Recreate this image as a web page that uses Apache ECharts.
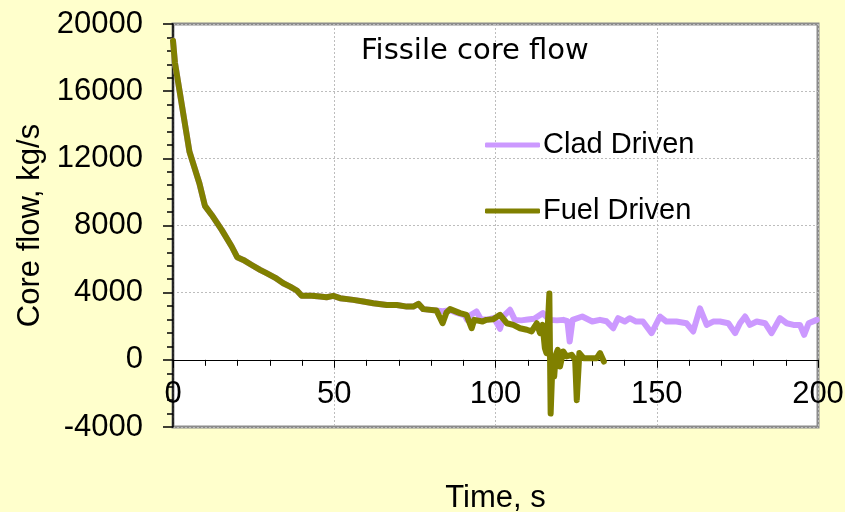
<!DOCTYPE html>
<html>
<head>
<meta charset="utf-8">
<script src="https://cdn.jsdelivr.net/npm/echarts@6/dist/echarts.min.js"></script>
<style>
html,body{margin:0;padding:0;background:#FFFFCC;}
#chart{width:845px;height:512px;}
</style>
</head>
<body>
<div id="chart"></div>
<script>
// ---- Data ----
var seriesNames = ['Clad Driven', 'Fuel Driven'];

var fuelTime = [0, 0.6, 5.1, 8.2, 9.9, 12, 15.1, 18.2, 19.9, 21.8, 24.4, 27, 29, 31.6, 34.2, 36.3, 38.4, 39.9, 43, 45.6, 47.6, 49.7, 51.8, 55.9, 59, 62.1, 66.3, 69.4, 72.5, 74.5, 76.1, 77.6, 81.7, 83.6, 84.8, 85.9, 89, 91, 92.6, 93.4, 96, 97.2, 99.3, 101.4, 103.5, 105.5, 107.6, 109.7, 111.2, 112.8, 113.8, 114.6, 115.3, 115.8, 116.7, 117.1, 117.7, 118.2, 118.7, 119.3, 120, 121, 122, 123.6, 124.7, 125.2, 126, 127.3, 129.3, 131.4, 132.4, 133.6];
var fuelFlow = [19000, 17700, 12400, 10500, 9170, 8630, 7740, 6750, 6110, 5950, 5650, 5360, 5160, 4900, 4560, 4360, 4130, 3810, 3810, 3770, 3730, 3810, 3670, 3570, 3470, 3370, 3270, 3270, 3170, 3170, 3330, 3020, 2940, 2180, 2820, 3020, 2780, 2680, 1880, 2380, 2280, 2380, 2420, 2680, 2180, 2080, 1880, 1790, 1690, 2180, 1590, 2080, 700, 400, 3950, -3200, 0, -1000, 300, 600, -400, 500, 200, 300, 0, -2400, 400, 100, 100, 100, 400, -100];

var cladTime = [0, 0.6, 5.1, 8.2, 9.9, 12, 15.1, 18.2, 19.9, 21.8, 24.4, 27, 29, 31.6, 34.2, 36.3, 38.4, 39.9, 43, 45.6, 47.6, 49.7, 51.8, 55.9, 59, 62.1, 66.3, 69.4, 72.5, 74.5, 76.1, 77.6, 81.7, 83.6, 85.9, 88, 90.5, 91.2, 92.2, 94.1, 95.5, 97.5, 99.5, 101.4, 102.5, 104.5, 106, 108, 110, 112, 114.7, 116.7, 119, 121, 122.3, 123, 123.9, 126.9, 130, 132.4, 134.4, 136.5, 138, 140.1, 141.6, 143.6, 145.7, 148.4, 151, 153, 156.1, 159.2, 161.3, 163.4, 165.5, 167.5, 169.6, 172.2, 174.3, 175.8, 177.4, 178.9, 181, 183.6, 185.6, 188.2, 190.3, 192.4, 194.4, 195.7, 197.1, 199.6];
var cladFlow = [19000, 17700, 12400, 10500, 9170, 8630, 7740, 6750, 6110, 5950, 5650, 5360, 5160, 4900, 4560, 4360, 4130, 3810, 3810, 3770, 3730, 3810, 3670, 3570, 3470, 3370, 3270, 3270, 3170, 3170, 3330, 3020, 2940, 2900, 2950, 2800, 2650, 2380, 2650, 2880, 2400, 2400, 2500, 1850, 2600, 2980, 2380, 2350, 2400, 2450, 2780, 2380, 2350, 2380, 2300, 1090, 2380, 2580, 2280, 2380, 2300, 1880, 2480, 2280, 2480, 2280, 2280, 1590, 2580, 2280, 2280, 2180, 1690, 3070, 2080, 2280, 2280, 2180, 1590, 2180, 2580, 2080, 2280, 2180, 1590, 2480, 2180, 2080, 2080, 1490, 2180, 2380];

var xTicks = [0, 50, 100, 150, 200];
var yTicks = [-4000, 0, 4000, 8000, 12000, 16000, 20000];

function pairs(t, v) {
  var out = [];
  for (var i = 0; i < t.length; i++) out.push([t[i], v[i]]);
  return out;
}

var chart = echarts.init(document.getElementById('chart'), null, {renderer: 'canvas'});
var font = '"Liberation Sans", Arial, sans-serif';

chart.setOption({
  backgroundColor: '#FFFFCC',
  animation: false,
  title: {
    text: 'Fissile core flow',
    left: 361,
    top: 37,
    padding: 0,
    textStyle: {fontFamily: '"DejaVu Sans", sans-serif', fontSize: 29, fontWeight: 'normal', color: '#000'}
  },
  legend: {
    data: seriesNames,
    orient: 'vertical',
    left: 485,
    top: 130,
    padding: 0,
    itemGap: 36,
    itemWidth: 55,
    itemHeight: 5,
    icon: 'roundRect',
    textStyle: {fontFamily: font, fontSize: 29, color: '#000', lineHeight: 30, padding: [0, 0, 0, -2]}
  },
  grid: {
    left: 173, right: 27, top: 24, bottom: 85,
    show: true,
    backgroundColor: '#FFFFFF',
    borderColor: '#8C8C8C',
    borderWidth: 3,
    containLabel: false,
    outerBoundsMode: 'none'
  },
  xAxis: {
    type: 'value',
    min: xTicks[0],
    max: xTicks[xTicks.length - 1],
    interval: 50,
    name: 'Time, s',
    nameLocation: 'middle',
    nameGap: 56,
    nameTextStyle: {fontFamily: font, fontSize: 31, color: '#000'},
    axisLine: {show: true, onZero: true, lineStyle: {color: '#000', width: 1}},
    axisTick: {show: true, inside: false, length: 8, lineStyle: {color: '#000'}},
    minorTick: {show: true, splitNumber: 5, length: 6, lineStyle: {color: '#000'}},
    axisLabel: {fontFamily: font, fontSize: 31, color: '#000', margin: -48, formatter: function (v) { return String(v); }},
    splitLine: {show: true, lineStyle: {color: '#BDBDBD', type: [2, 2], width: 1}}
  },
  yAxis: {
    type: 'value',
    min: yTicks[0],
    max: yTicks[yTicks.length - 1],
    interval: 4000,
    name: 'Core flow, kg/s',
    nameLocation: 'middle',
    nameGap: 127,
    nameTextStyle: {fontFamily: font, fontSize: 31, color: '#000'},
    axisLine: {show: true, lineStyle: {color: '#000', width: 1.5}},
    axisTick: {show: true, inside: false, length: 10, lineStyle: {color: '#000', width: 1.5}},
    minorTick: {show: true, splitNumber: 5, length: 6, lineStyle: {color: '#000', width: 1.5}},
    axisLabel: {fontFamily: font, fontSize: 31, color: '#000', margin: 30, formatter: function (v) { return String(v); }},
    splitLine: {show: true, lineStyle: {color: '#BDBDBD', type: [2, 2], width: 1}}
  },
  series: [
    {
      name: seriesNames[0],
      type: 'line',
      data: pairs(cladTime, cladFlow),
      showSymbol: false,
      symbol: 'none',
      color: '#CC99FF',
      lineStyle: {color: '#CC99FF', width: 6, join: 'round', cap: 'round'},
      z: 2
    },
    {
      name: seriesNames[1],
      type: 'line',
      data: pairs(fuelTime, fuelFlow),
      showSymbol: false,
      symbol: 'none',
      color: '#808000',
      lineStyle: {color: '#808000', width: 6, join: 'round', cap: 'round'},
      z: 3
    }
  ]
});
</script>
</body>
</html>
